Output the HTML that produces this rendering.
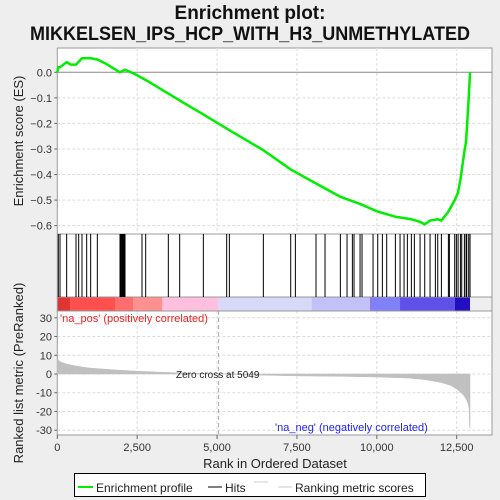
<!DOCTYPE html>
<html><head><meta charset="utf-8"><style>
body{margin:0;background:#eeeeee;}
svg{display:block;font-family:"Liberation Sans",sans-serif;}
</style></head><body>
<svg id="c" width="500" height="500" xmlns="http://www.w3.org/2000/svg">
<rect width="500" height="500" fill="#eeeeee"/>
<text x="250" y="19" text-anchor="middle" font-size="19" font-weight="bold" fill="#111">Enrichment plot:</text>
<text x="250" y="40" text-anchor="middle" font-size="19" font-weight="bold" fill="#111" textLength="440" lengthAdjust="spacingAndGlyphs">MIKKELSEN_IPS_HCP_WITH_H3_UNMETHYLATED</text>
<g id="g"></g>
</svg>
<script>
const hitRanks=[32,85,293,585,669,773,919,1044,1253,1962,1983,2004,2025,2046,2067,2088,2119,2651,2766,3475,3830,4571,5301,5385,6449,7305,7451,8097,8379,8859,9068,9235,9287,9475,9537,9882,10028,10174,10309,10581,10727,10852,10956,11081,11175,11353,11499,11666,11833,11906,12021,12240,12271,12438,12490,12543,12616,12657,12741,12793,12814,12876,12917];
const esRanks=[0,32,85,293,420,585,773,1044,1253,1500,1962,2119,2400,2766,3475,4000,4571,5301,6449,7305,8097,8859,9475,10028,10581,11081,11353,11499,11666,11906,12021,12240,12438,12543,12616,12741,12793,12876,12917];
const esValues=[0,0.02,0.02,0.04,0.03,0.03,0.055,0.055,0.05,0.035,0.0,0.01,-0.005,-0.03,-0.083,-0.123,-0.165,-0.22,-0.305,-0.38,-0.435,-0.487,-0.515,-0.545,-0.565,-0.575,-0.585,-0.595,-0.58,-0.575,-0.58,-0.545,-0.5,-0.47,-0.42,-0.31,-0.27,-0.1,0];
const metricRanks=[0,100,250,600,1000,1800,2500,3500,5049,6000,7500,9000,10000,11000,11500,12000,12300,12500,12700,12800,12860,12890,12900,12917];
const metricValues=[8,6.5,5.5,4.2,3.2,2.2,1.5,0.8,0,-0.5,-1,-1.3,-1.6,-2.2,-3,-4.5,-6,-8,-11,-13.5,-16,-19,-27,-29];
const esTicks=[0,-0.1,-0.2,-0.3,-0.4,-0.5,-0.6];
const metricTicks=[30,20,10,0,-10,-20,-30];
const xTicks=[0,2500,5000,7500,10000,12500];
const xTickLabels=["0","2,500","5,000","7,500","10,000","12,500"];
const barColors=["#e03434","#ff5050","#ff6e6e","#ff9090","#ffc0e0","#d8d8f8","#c4c0f8","#8080f8","#6050e8","#2010c0"];
const barEnds=[397,1806,2379,3286,5040,7961,9787,10726,12447,12917];

const NS="http://www.w3.org/2000/svg";
const g=document.getElementById('g');
const L=57.3,R=492,N=12917;
const X=r=>L+r*(456.7-57.3)/12500;
const Yes=v=>72.3-v*255.6;
const Ym=v=>374-v*(56.2/30);
function el(t,a,p){const e=document.createElementNS(NS,t);for(const k in a)e.setAttribute(k,a[k]);(p||g).appendChild(e);return e;}
const p1=el('rect',{x:L,y:48,width:R-L,height:186,fill:'#fff',stroke:'#999'});


const p2=el('rect',{x:L,y:234,width:R-L,height:63,fill:'#fff',stroke:'#999'});


const p3=el('rect',{x:L,y:311,width:R-L,height:124,fill:'#fff',stroke:'#999'});


xTicks.forEach(t=>{if(t===0)return;
 const a=el('line',{x1:X(t),x2:X(t),y1:48,y2:234,stroke:'#ddd','stroke-dasharray':'3,2'});
 
 const b=el('line',{x1:X(t),x2:X(t),y1:311,y2:435,stroke:'#ddd','stroke-dasharray':'3,2'});
 });
esTicks.forEach(t=>{
 const a=el('line',{x1:L,x2:R,y1:Yes(t),y2:Yes(t),stroke:t===0?'#888':'#ddd','stroke-dasharray':t===0?'':'3,2'});
 
 const tx=el('text',{x:52,y:Yes(t)+4,'text-anchor':'end','font-size':11,fill:'#333'});tx.textContent=t===0?'0.0':t.toFixed(1).replace('-','−');
 
 el('line',{x1:L-3,x2:L,y1:Yes(t),y2:Yes(t),stroke:'#666'});});
metricTicks.forEach(t=>{
 const a=el('line',{x1:L,x2:R,y1:Ym(t),y2:Ym(t),stroke:'#ddd','stroke-dasharray':'3,2'});
 
 const tx=el('text',{x:52,y:Ym(t)+4,'text-anchor':'end','font-size':11,fill:'#333'});tx.textContent=String(t);
 
 el('line',{x1:L-3,x2:L,y1:Ym(t),y2:Ym(t),stroke:'#666'});});
const zc=el('line',{x1:X(5049),x2:X(5049),y1:311,y2:435,stroke:'#aaa','stroke-dasharray':'4,3'});

let d='M'+X(0)+','+Ym(0);
metricRanks.forEach((r,i)=>{d+=' L'+X(r)+','+Ym(metricValues[i]);});
d+=' L'+X(N)+','+Ym(0)+' Z';
const ar=el('path',{d:d,fill:'#c0c0c0',stroke:'#c0c0c0','stroke-width':0.5});

let prev=0;
barEnds.forEach((e,i)=>{const r=el('rect',{x:X(prev),y:297,width:X(e)-X(prev),height:14,fill:barColors[i]});
 prev=e;});
el('rect',{x:L,y:297,width:R-L,height:14,fill:'none',stroke:'#999'});
hitRanks.forEach(r=>{const h=el('line',{x1:X(r),x2:X(r),y1:234,y2:297,stroke:'#000','stroke-width':1});
 });
const pts=esRanks.map((r,i)=>X(r)+','+Yes(esValues[i])).join(' ');
const pl=el('polyline',{points:pts,fill:'none',stroke:'#00ee00','stroke-width':2.5,'stroke-linejoin':'round'});

xTicks.forEach((t,i)=>{el('line',{x1:X(t),x2:X(t),y1:435,y2:439,stroke:'#666'});
 const tx=el('text',{x:X(t),y:451,'text-anchor':'middle','font-size':11,fill:'#333'});tx.textContent=xTickLabels[i];
 });
function txt(x,y,s,o,name){const t=el('text',Object.assign({x:x,y:y},o));t.textContent=s;return t;}
txt(60,322,"'na_pos' (positively correlated)",{'font-size':11,fill:'#ee2222'},'na-pos-label');
txt(275,431,"'na_neg' (negatively correlated)",{'font-size':11,fill:'#2222ee'},'na-neg-label');
txt(176,378,"Zero cross at 5049",{'font-size':10,fill:'#222'},'zero-cross-label');
txt(275,468,"Rank in Ordered Dataset",{'font-size':13,fill:'#222','text-anchor':'middle'},'x-axis-title');
txt(0,0,"Enrichment score (ES)",{'font-size':13,fill:'#222','text-anchor':'middle',transform:'translate(23,141) rotate(-90)'},'es-axis-title');
txt(0,0,"Ranked list metric (PreRanked)",{'font-size':13,fill:'#222','text-anchor':'middle',transform:'translate(23,373) rotate(-90)'},'metric-axis-title');
const lg=el('rect',{x:74.5,y:473.5,width:351,height:23,fill:'#fff',stroke:'#000'});

el('line',{x1:78,x2:93,y1:487,y2:487,stroke:'#00ee00','stroke-width':2});
txt(96,492,"Enrichment profile",{'font-size':12,fill:'#222'},'legend-enrichment-profile');
el('line',{x1:208,x2:222,y1:487,y2:487,stroke:'#000','stroke-width':1});
txt(225,492,"Hits",{'font-size':12,fill:'#222'},'legend-hits');
el('line',{x1:254,x2:268,y1:482,y2:482,stroke:'#ccc'});
el('line',{x1:278,x2:292,y1:487,y2:487,stroke:'#ccc'});
txt(295,492,"Ranking metric scores",{'font-size':12,fill:'#222'},'legend-ranking-metric');
</script>
</body></html>
